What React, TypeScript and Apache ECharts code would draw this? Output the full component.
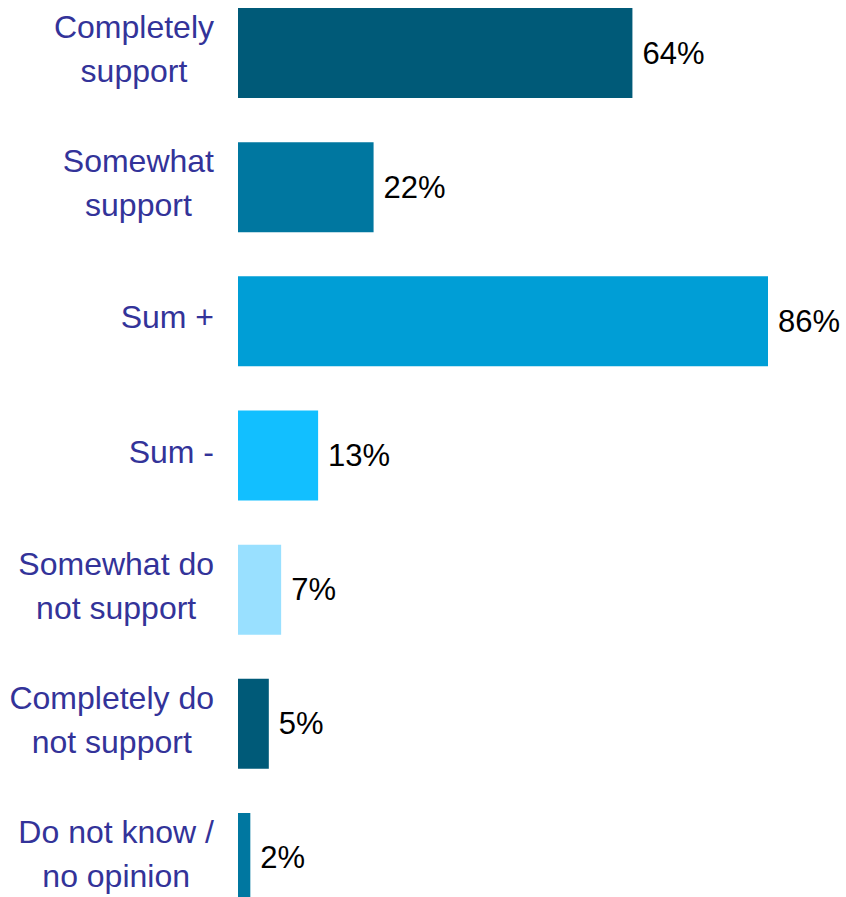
import React, { useEffect, useRef } from "react";
import * as echarts from "echarts";

const categories = [
  "Completely\nsupport",
  "Somewhat\nsupport",
  "Sum +",
  "Sum -",
  "Somewhat do\nnot support",
  "Completely do\nnot support",
  "Do not know /\nno opinion",
];
const values = [64, 22, 86, 13, 7, 5, 2];
const barColors = ["#005A78", "#0077A0", "#009ED6", "#12BFFF", "#99E0FF", "#005A78", "#0077A0"];

export default function App() {
  const ref = useRef<HTMLDivElement>(null);
  useEffect(() => {
    document.body.style.margin = "0";
    const chart = echarts.init(ref.current!, null, { renderer: "svg" });
    const font = '"Liberation Sans", Arial, sans-serif';
    chart.setOption({
      animation: false,
      grid: { left: 238, top: 0, width: 530, height: 939, containLabel: false },
      xAxis: {
        type: "value",
        min: 0,
        max: 86,
        show: false,
      },
      yAxis: {
        type: "category",
        data: categories,
        inverse: true,
        axisLine: { show: false },
        axisTick: { show: false },
        splitLine: { show: false },
        axisLabel: {
          margin: 24,
          padding: [0, 0, 8, 0],
          fontFamily: font,
          formatter: (v: string) =>
            v.split("\n").map((l) => `{c|${l}}`).join("\n"),
          rich: {
            c: {
              align: "center",
              fontSize: 32,
              lineHeight: 44,
              color: "#333399",
              fontFamily: font,
            },
          },
        },
      },
      series: [
        {
          type: "bar",
          barWidth: 90,
          data: values.map((v, i) => ({ value: v, itemStyle: { color: barColors[i] } })),
          label: {
            show: true,
            position: "right",
            distance: 10,
            formatter: "{c}%",
            fontSize: 31,
            color: "#000000",
            fontFamily: font,
          },
        },
      ],
    });
    return () => chart.dispose();
  }, []);
  return (
    <div style={{ width: 846, height: 897, overflow: "hidden", position: "relative" }}>
      <div ref={ref} style={{ width: 846, height: 960, position: "absolute", left: 0, top: -14 }} />
    </div>
  );
}
